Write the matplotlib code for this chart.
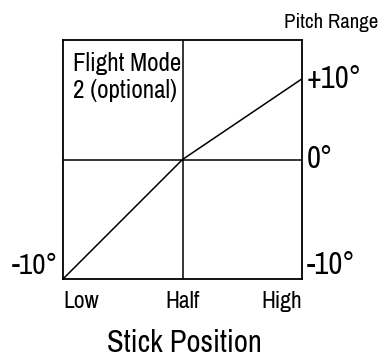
import matplotlib
matplotlib.use("Agg")
import numpy as np
import matplotlib.pyplot as plt

plt.rcParams['font.family'] = ['Archivo Narrow', 'DejaVu Sans']

# stick throw vs. pitch (degrees)
stick_labels = ["Low", "Half", "High"]
stick_pos = [0, 1, 2]
pitch_deg = [-10, 0, 10]
pitch_ticks = [10, 0, -10]
pitch_tick_labels = ["+10°", "0°", "-10°"]

# upper half of the pitch scale is drawn compressed
UP = 0.675


def fwd(y):
    y = np.asarray(y, dtype=float)
    return np.where(y >= 0, y * UP / 10.0, y / 10.0)


def inv(y):
    y = np.asarray(y, dtype=float)
    return np.where(y >= 0, y * 10.0 / UP, y * 10.0)


W, H = 382, 356
fig = plt.figure(figsize=(W / 100, H / 100), dpi=100)
ax = fig.add_axes([63 / W, (H - 279) / H, 239 / W, 239 / H])

ax.set_yscale('function', functions=(fwd, inv))
ax.set_xlim(0, 2)
ax.set_ylim(-10, 10 / UP)

ax.plot(stick_pos, pitch_deg, color='black', lw=1.1)
ax.axhline(0, color='black', lw=1.1)
ax.axvline(1, color='black', lw=1.1)
for s in ax.spines.values():
    s.set_linewidth(1.3)

ax.set_xticks([])
ax.set_yticks([])
ax.minorticks_off()

# right side pitch labels
for v, lab in zip(pitch_ticks, pitch_tick_labels):
    va = 'bottom' if v < 0 else 'center'
    ax.text(2.04, v, lab, ha='left', va=va, fontsize=22)
ax.text(-0.04, -10, "-10°", ha='right', va='bottom', fontsize=21)

# stick position labels
for x, lab in zip(stick_pos, stick_labels):
    ha = ['left', 'center', 'right'][x]
    ax.text(x, -11.0, lab, ha=ha, va='top', fontsize=17)

ax.text(0.04, 0.95, "Flight Mode\n2 (optional)", transform=ax.transAxes,
        ha='left', va='top', fontsize=18, linespacing=1.2)

fig.text(378 / W, 1 - 28 / H, "Pitch Range", ha='right', va='baseline', fontsize=15)
fig.text(184 / W, 1 - 352 / H, "Stick Position", ha='center', va='baseline', fontsize=22)

fig.savefig("out.png", dpi=100)
